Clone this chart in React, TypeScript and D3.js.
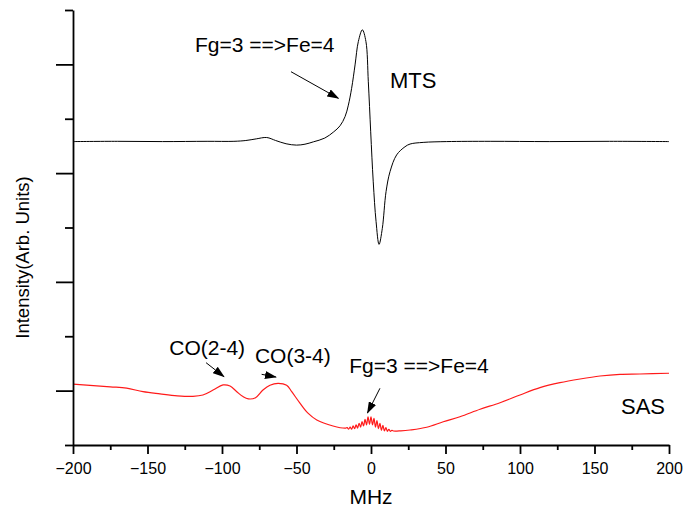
import React, { useEffect, useRef } from 'react';
import * as d3 from 'd3';

const W = 684;
const H = 512;

const xDomain: [number, number] = [-200, 200];
const yDomain: [number, number] = [0, 8];
const xTicksMajor = [-200, -150, -100, -50, 0, 50, 100, 150, 200];
const xTicksMinor = [-175, -125, -75, -25, 25, 75, 125, 175];
const yTicksMajor = [1, 3, 5, 7];
const yTicksMinor = [0, 2, 4, 6, 8];

// MTS signal (MHz, arb. units)
const mtsData: [number, number][] = [
  [-200, 5.58], [-170, 5.585], [-140, 5.58], [-110, 5.585], [-92, 5.585],
  [-84, 5.6], [-77, 5.63], [-70, 5.655], [-64, 5.6], [-57, 5.54],
  [-50, 5.515], [-44.3, 5.532], [-38.7, 5.575], [-31, 5.645], [-25, 5.76],
  [-20.8, 5.87], [-17.4, 6.04], [-15.2, 6.25], [-13, 6.56], [-10.7, 6.99],
  [-8.5, 7.42], [-5.8, 7.635], [-3.4, 7.42], [-1.8, 6.68], [-0.2, 5.76],
  [1.5, 4.84], [3.4, 4.11], [5.4, 3.69], [7.6, 3.985], [10.1, 4.66],
  [12.8, 5.03], [17.2, 5.335], [22.8, 5.485], [26.2, 5.535], [35, 5.565],
  [50.8, 5.58], [80, 5.585], [120, 5.58], [160, 5.585], [200, 5.58],
];

// SAS signal (MHz, arb. units), including the fringes near 0 MHz
const sasData: [number, number][] = [
  [-200, 1.12], [-175, 1.07], [-164, 1.045], [-153, 0.98], [-141.6, 0.94],
  [-130, 0.905], [-119.5, 0.895], [-112.8, 0.92], [-106, 1.01], [-99.3, 1.105],
  [-94.6, 1.085], [-90.1, 0.98], [-85.9, 0.89], [-82.3, 0.848], [-77.5, 0.87],
  [-72.5, 1.01], [-67.8, 1.1], [-62.4, 1.135], [-56.6, 1.1], [-53.2, 0.98],
  [-47.7, 0.77], [-42.3, 0.585], [-36.4, 0.46], [-25.5, 0.35], [-17, 0.31],
  [-16, 0.32], [-15, 0.29], [-14, 0.33], [-13, 0.29], [-12, 0.35], [-11, 0.3],
  [-10, 0.37], [-9, 0.31], [-8, 0.4], [-7, 0.33], [-6, 0.43], [-5, 0.35],
  [-4, 0.47], [-3, 0.37], [-2, 0.52], [-1, 0.38], [0, 0.52], [1, 0.37],
  [2, 0.49], [3, 0.33], [4, 0.45], [5, 0.3], [6, 0.4], [7, 0.27], [8, 0.36],
  [9, 0.26], [10, 0.32], [11, 0.25], [12, 0.29], [13, 0.25], [14, 0.27],
  [15, 0.257], [20, 0.26], [26.2, 0.276], [37.4, 0.326], [48.5, 0.428],
  [59.7, 0.52], [73.2, 0.657], [86.6, 0.778], [100, 0.92], [113.4, 1.054],
  [126.8, 1.146], [140.3, 1.214], [153.7, 1.269], [167.1, 1.3], [180.5, 1.306],
  [200, 1.32],
];

// Annotation labels (data coordinates)
const labels: { text: string; at: [number, number]; size: number }[] = [
  { text: 'Fg=3 ==>Fe=4', at: [-118.1, 7.228], size: 21 },
  { text: 'MTS', at: [12.75, 6.566], size: 22 },
  { text: 'CO(2-4)', at: [-135.4, 1.655], size: 21 },
  { text: 'CO(3-4)', at: [-77.9, 1.503], size: 21 },
  { text: 'Fg=3 ==>Fe=4', at: [-14.6, 1.324], size: 21 },
  { text: 'SAS', at: [167.8, 0.57], size: 22 },
];

// Arrows (data coordinates: from -> to)
const arrows: [[number, number], [number, number]][] = [
  [[-53.7, 6.865], [-21.9, 6.376]],
  [[-110.7, 1.514], [-98.7, 1.256]],
  [[-73.4, 1.3], [-63.8, 1.251]],
  [[6.0, 1.043], [-2.35, 0.589]],
];

const FONT = "'Liberation Sans', Arial, Helvetica, sans-serif";

export default function App() {
  const gx = useRef<SVGGElement>(null);
  const gxm = useRef<SVGGElement>(null);
  const gy = useRef<SVGGElement>(null);
  const gym = useRef<SVGGElement>(null);

  const x = d3.scaleLinear().domain(xDomain).range([73, 669]);
  const y = d3.scaleLinear().domain(yDomain).range([445, 10]);

  useEffect(() => {
    const style = (g: d3.Selection<SVGGElement, unknown, null, undefined>) => {
      g.selectAll('line').attr('stroke', '#000').attr('stroke-width', 1.8);
      g.selectAll('path.domain').attr('stroke', '#000').attr('stroke-width', 1.8);
    };
    if (gx.current) {
      const g = d3.select(gx.current);
      g.call(
        d3.axisBottom(x).tickValues(xTicksMajor).tickSize(9).tickSizeOuter(0)
          .tickPadding(9).tickFormat(d3.format('d') as any)
      );
      style(g);
      g.selectAll('text').attr('font-size', 16).attr('font-family', FONT).attr('fill', '#000');
    }
    if (gxm.current) {
      const g = d3.select(gxm.current);
      g.call(d3.axisBottom(x).tickValues(xTicksMinor).tickSize(5).tickSizeOuter(0).tickFormat(() => ''));
      g.select('path.domain').remove();
      style(g);
    }
    if (gy.current) {
      const g = d3.select(gy.current);
      g.call(d3.axisLeft(y).tickValues(yTicksMajor).tickSize(17).tickSizeOuter(0).tickFormat(() => ''));
      style(g);
    }
    if (gym.current) {
      const g = d3.select(gym.current);
      g.call(d3.axisLeft(y).tickValues(yTicksMinor).tickSize(8).tickSizeOuter(0).tickFormat(() => ''));
      g.select('path.domain').remove();
      style(g);
    }
  }, []);

  const line = d3
    .line<[number, number]>()
    .x((d) => x(d[0]))
    .y((d) => y(d[1]))
    .curve(d3.curveCatmullRom.alpha(0.5));

  return (
    <svg
      width={W}
      height={H}
      style={{ position: 'absolute', left: 0, top: 0, background: '#fff' }}
      fontFamily={FONT}
    >
      <defs>
        <marker
          id="ah"
          markerUnits="userSpaceOnUse"
          markerWidth={12}
          markerHeight={8}
          refX={11}
          refY={4}
          orient="auto"
        >
          <path d="M0,0 L12,4 L0,8 Z" fill="#000" />
        </marker>
      </defs>
      <rect x={0} y={0} width={W} height={H} fill="#fff" />
      <path d={line(mtsData) || ''} fill="none" stroke="#000" strokeWidth={1} />
      <path d={line(sasData) || ''} fill="none" stroke="#ff1a1a" strokeWidth={1.2} />
      <g ref={gy} transform={`translate(${x(xDomain[0])},0)`} />
      <g ref={gym} transform={`translate(${x(xDomain[0])},0)`} />
      <g ref={gx} transform={`translate(0,${y(yDomain[0])})`} />
      <g ref={gxm} transform={`translate(0,${y(yDomain[0])})`} />
      {arrows.map((a, i) => (
        <line
          key={i}
          x1={x(a[0][0])}
          y1={y(a[0][1])}
          x2={x(a[1][0])}
          y2={y(a[1][1])}
          stroke="#000"
          strokeWidth={1}
          markerEnd="url(#ah)"
        />
      ))}
      {labels.map((l, i) => (
        <text key={i} x={x(l.at[0])} y={y(l.at[1])} fontSize={l.size} fill="#000">
          {l.text}
        </text>
      ))}
      <text x={371} y={504} fontSize={21} textAnchor="middle" fill="#000">
        MHz
      </text>
      <text
        transform={`translate(29,${(y(yDomain[0]) + y(yDomain[1])) / 2 + 30}) rotate(-90)`}
        fontSize={18.5}
        textAnchor="middle"
        fill="#000"
      >
        Intensity(Arb. Units)
      </text>
    </svg>
  );
}
